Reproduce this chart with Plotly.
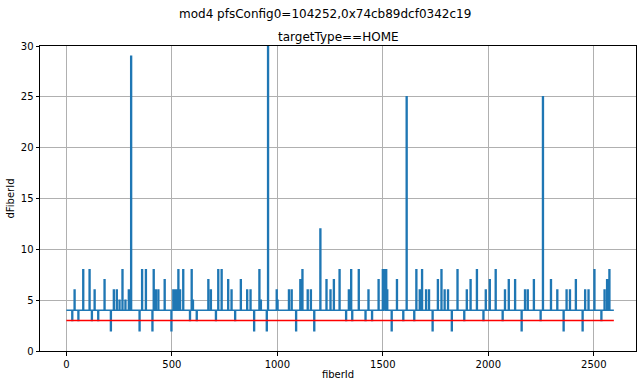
import plotly.graph_objects as go

# spikes: (fiberId, dFiberId); baseline dFiberId is 4
spike_fiber = [28, 39, 57, 80, 110, 121, 134, 151, 181, 211, 225, 239, 252, 266, 280, 296, 307,
               347, 359, 377, 408, 414, 424, 436, 466, 498, 507, 518, 525, 531, 539, 554, 586, 594,
               600, 618, 673, 685, 709, 720, 736, 767, 783, 800, 827, 857, 873, 890, 915, 922, 950,
               956, 997, 1001, 1055, 1068, 1089, 1109, 1119, 1144, 1159, 1175, 1204, 1233, 1252,
               1268, 1295, 1326, 1339, 1350, 1355, 1386, 1418, 1432, 1449, 1480, 1500, 1506, 1510,
               1516, 1521, 1542, 1567, 1597, 1613, 1649, 1659, 1675, 1686, 1705, 1719, 1736, 1761,
               1778, 1793, 1809, 1827, 1854, 1886, 1898, 1916, 1946, 1977, 1988, 2007, 2035, 2068,
               2079, 2097, 2127, 2158, 2174, 2187, 2216, 2248, 2259, 2297, 2327, 2357, 2371, 2387,
               2415, 2447, 2459, 2475, 2503, 2536, 2551, 2563, 2574]
spike_value = [3, 6, 3, 8, 8, 3, 6, 3, 7, 2, 6, 6, 5, 8, 5, 6, 29,
               2, 8, 8, 2, 8, 6, 6, 7, 2, 6, 6, 6, 8, 6, 8, 3, 8,
               5, 3, 7, 6, 3, 8, 8, 7, 6, 3, 7, 6, 6, 2, 8, 5, 2,
               40, 6, 5, 6, 6, 2, 7, 8, 6, 6, 2, 12, 7, 6,
               7, 8, 3, 6, 8, 3, 8, 3, 6, 3, 7, 8, 6, 8,
               8, 6, 2, 7, 3, 25, 3, 8, 6, 8, 6, 6, 2, 7,
               8, 6, 6, 2, 8, 3, 6, 7, 8, 3, 6, 7, 8, 3,
               6, 7, 7, 2, 6, 6, 7, 3, 25, 7, 6, 2, 6, 6,
               7, 2, 6, 6, 8, 3, 6, 7, 8]
base_value = 4
fiber_start = 0
fiber_end = 2595
threshold = 3

half = 2
xs = [fiber_start]
ys = [base_value]
for p, v in zip(spike_fiber, spike_value):
    xs += [p - half, p + half]
    ys += [v, base_value]
xs.append(fiber_end)
ys.append(base_value)

fig = go.Figure()
fig.add_trace(go.Scatter(x=xs, y=ys, mode="lines", line=dict(color="#1f77b4", width=1.5, shape="hv"),
                         showlegend=False))
fig.add_trace(go.Scatter(x=[fiber_start, fiber_end], y=[threshold, threshold], mode="lines",
                         line=dict(color="red", width=1.5), showlegend=False))

font = "DejaVu Sans"
fig.update_layout(
    width=639, height=381,
    margin=dict(l=40, r=2, t=46, b=27),
    plot_bgcolor="white", paper_bgcolor="white",
    font=dict(family=font, size=10, color="black"),
    xaxis=dict(range=[-125, 2700], tickvals=[0, 500, 1000, 1500, 2000, 2500],
               showgrid=True, gridcolor="#b0b0b0", gridwidth=0.8, zeroline=False,
               showline=True, linecolor="black", linewidth=1, mirror=True,
               ticks="outside", ticklen=3.5, tickcolor="black",
               title=dict(text="fiberId", font=dict(size=10), standoff=2)),
    yaxis=dict(range=[0, 30], tickvals=[0, 5, 10, 15, 20, 25, 30],
               showgrid=True, gridcolor="#b0b0b0", gridwidth=0.8, zeroline=False,
               showline=True, linecolor="black", linewidth=1, mirror=True,
               ticks="outside", ticklen=3.5, tickcolor="black",
               title=dict(text="dFiberId", font=dict(size=10), standoff=4)),
    annotations=[
        dict(text="mod4 pfsConfig0=104252,0x74cb89dcf0342c19", xref="paper", yref="paper",
             x=0.479, y=1, yshift=32, xanchor="center", yanchor="middle",
             showarrow=False, font=dict(size=12)),
        dict(text="targetType==HOME", xref="paper", yref="paper",
             x=0.5, y=1, yshift=9, xanchor="center", yanchor="middle",
             showarrow=False, font=dict(size=12)),
    ],
)
fig.write_html("out.html")
